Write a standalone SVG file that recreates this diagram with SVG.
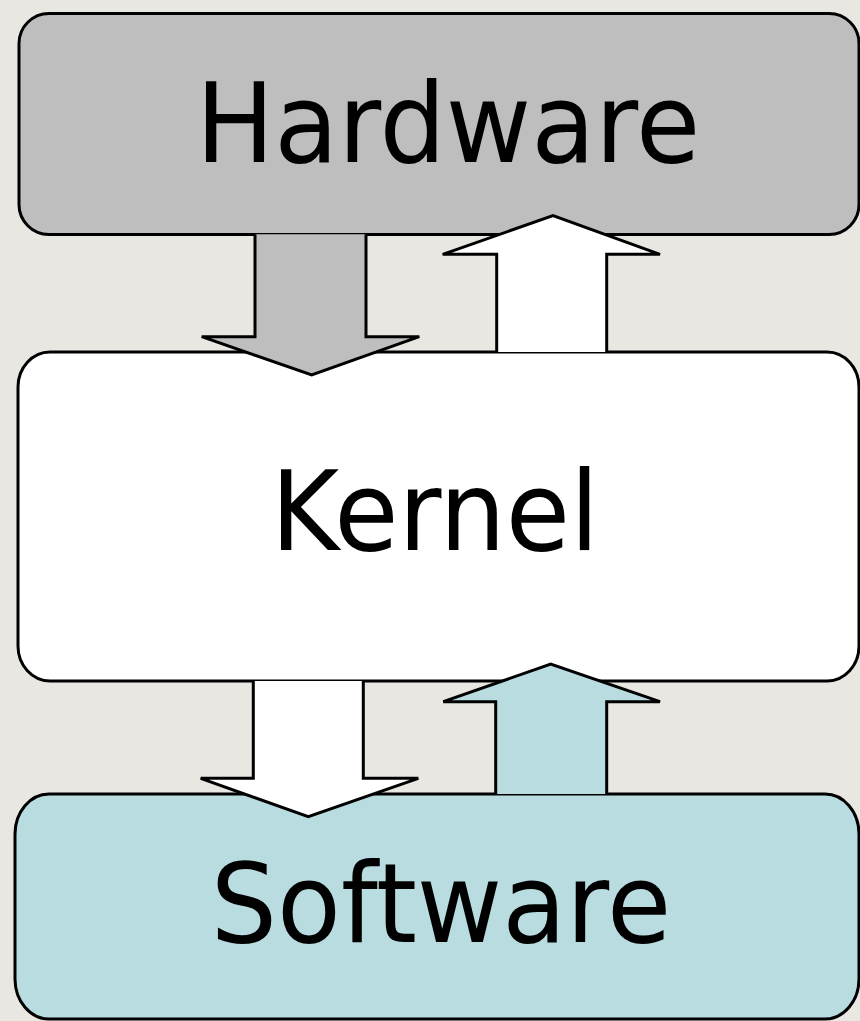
<svg xmlns="http://www.w3.org/2000/svg" width="860" height="1021" viewBox="0 0 860 1021">
  <style>
    .box { stroke: #000; stroke-width: 3; }
    .arrow { stroke: #000; stroke-width: 3; stroke-linejoin: miter; }
    .label { font-family: "DejaVu Sans", "Liberation Sans", sans-serif; font-size: 110px; fill: #000; text-anchor: middle; }
    .gray { fill: #bebebe; }
    .white { fill: #ffffff; }
    .teal { fill: #b8dce0; }
  </style>
  <rect x="0" y="0" width="860" height="1021" fill="#e9e7e2"/>
  <g id="hardware">
    <rect class="box gray" x="19" y="13.5" width="840" height="221" rx="30" ry="30"/>
    <text class="label" transform="translate(448 162) scale(0.95 1)">Hardware</text>
  </g>
  <g id="kernel">
    <rect class="box white" x="18" y="352" width="841" height="329" rx="32" ry="35"/>
    <text class="label" transform="translate(435 550) scale(0.95 1)">Kernel</text>
  </g>
  <g id="software">
    <rect class="box teal" x="15" y="794" width="844" height="225" rx="34" ry="40"/>
    <text class="label" transform="translate(441 942) scale(0.95 1)">Software</text>
  </g>
  <g id="connectors">
    <path class="arrow gray" d="M255 234.3 V336.7 H201.7 L311.7 375 L419.3 336.7 H366 V234.3"/>
    <path class="arrow white" d="M496.7 352 V254.3 H442.7 L553 215.7 L660 254.3 H606.7 V352"/>
    <path class="arrow white" d="M253.3 681 V778.3 H200.7 L308.3 816.7 L418.3 778.3 H363.3 V681"/>
    <path class="arrow teal" d="M495.7 794 V701.7 H443.3 L550.7 664 L660 701.7 H606.7 V794"/>
  </g>
</svg>
